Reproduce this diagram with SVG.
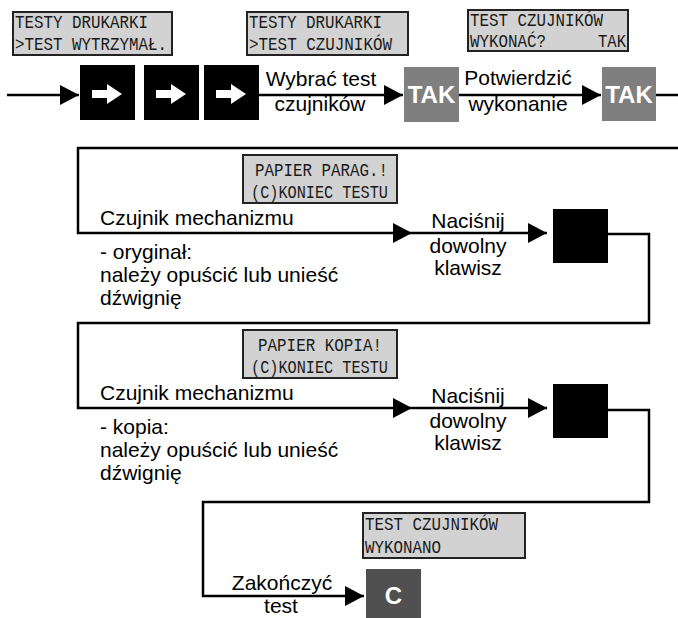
<svg xmlns="http://www.w3.org/2000/svg" width="678" height="618" viewBox="0 0 678 618">
<style>
.lcd{fill:#d2d2d2;stroke:#222;stroke-width:2}
.lt{font-family:"Liberation Mono","DejaVu Sans Mono",monospace;font-size:18px;fill:#1a1a1a}
.lbl{font-family:"Liberation Sans",Arial,sans-serif;font-size:21px;fill:#000}
.mid{text-anchor:middle}
.key{fill:#000}
.tak{fill:#7f7f7f}
.cbox{fill:#505050}
.kt{font-family:"Liberation Sans",Arial,sans-serif;font-weight:bold;font-size:24px;fill:#fff;text-anchor:middle}
.ln{fill:none;stroke:#000;stroke-width:2.5}
</style>
<defs>
<marker id="ah" markerUnits="userSpaceOnUse" markerWidth="19" markerHeight="20" refX="19" refY="10" orient="auto" viewBox="0 0 19 20">
<path d="M0,0 L19,10 L0,20 z" fill="#000"/>
</marker>
<path id="wa" d="M12,25 H27 V19 L42,29 L27,39 V33 H12 z" fill="#fff"/>
</defs>

<g id="connectors">
<path class="ln" d="M7,95 H79" marker-end="url(#ah)"/>
<path class="ln" d="M258,95 H403" marker-end="url(#ah)"/>
<path class="ln" d="M458,95 H601" marker-end="url(#ah)"/>
<path class="ln" d="M655,95 H678"/>
<path class="ln" d="M678,148 H78 V233 H412" marker-end="url(#ah)"/>
<path class="ln" d="M412,233 H547" marker-end="url(#ah)"/>
<path class="ln" d="M608,234 H649 V323 H78 V408 H412" marker-end="url(#ah)"/>
<path class="ln" d="M412,408 H547" marker-end="url(#ah)"/>
<path class="ln" d="M608,410 H649 V502 H203 V596 H364" marker-end="url(#ah)"/>
</g>

<g id="lcd1">
<rect class="lcd" x="13" y="12" width="159" height="43"/>
<text class="lt" x="15" y="28" textLength="133" lengthAdjust="spacingAndGlyphs">TESTY DRUKARKI</text>
<text class="lt" x="15" y="50" textLength="152" lengthAdjust="spacingAndGlyphs">&gt;TEST WYTRZYMAŁ.</text>
</g>
<g id="lcd2">
<rect class="lcd" x="247" y="12" width="161" height="43"/>
<text class="lt" x="249" y="28" textLength="133" lengthAdjust="spacingAndGlyphs">TESTY DRUKARKI</text>
<text class="lt" x="249" y="50" textLength="143" lengthAdjust="spacingAndGlyphs">&gt;TEST CZUJNIKÓW</text>
</g>
<g id="lcd3">
<rect class="lcd" x="468" y="10" width="160" height="41"/>
<text class="lt" x="470" y="26" textLength="133" lengthAdjust="spacingAndGlyphs">TEST CZUJNIKÓW</text>
<text class="lt" x="470" y="47" textLength="76" lengthAdjust="spacingAndGlyphs">WYKONAĆ?</text>
<text class="lt" x="598" y="47" textLength="28" lengthAdjust="spacingAndGlyphs">TAK</text>
</g>

<g id="key1"><rect class="key" x="80" y="65" width="55" height="55"/><use href="#wa" x="80" y="65"/></g>
<g id="key2"><rect class="key" x="144" y="65" width="55" height="55"/><use href="#wa" x="144" y="65"/></g>
<g id="key3"><rect class="key" x="204" y="65" width="55" height="55"/><use href="#wa" x="204" y="65"/></g>

<g id="label1">
<text class="lbl mid" x="321" y="86">Wybrać test</text>
<text class="lbl mid" x="320" y="111">czujników</text>
</g>
<g id="tak1"><rect class="tak" x="404" y="67" width="55" height="55"/><text class="kt" x="431.5" y="103">TAK</text></g>
<g id="label2">
<text class="lbl mid" x="518" y="85">Potwierdzić</text>
<text class="lbl mid" x="518" y="111">wykonanie</text>
</g>
<g id="tak2"><rect class="tak" x="602" y="67" width="54" height="54"/><text class="kt" x="629" y="103">TAK</text></g>

<g id="lcd4">
<rect class="lcd" x="243" y="155" width="154" height="48"/>
<text class="lt" x="255" y="176" textLength="133" lengthAdjust="spacingAndGlyphs">PAPIER PARAG.!</text>
<text class="lt" x="251" y="198" textLength="137" lengthAdjust="spacingAndGlyphs">(C)KONIEC TESTU</text>
</g>
<g id="text2">
<text class="lbl" x="100" y="225">Czujnik mechanizmu</text>
<text class="lbl" x="100" y="259">- oryginał:</text>
<text class="lbl" x="100" y="282">należy opuścić lub unieść</text>
<text class="lbl" x="100" y="305">dźwignię</text>
</g>
<g id="label3">
<text class="lbl mid" x="468" y="228">Naciśnij</text>
<text class="lbl mid" x="468" y="253">dowolny</text>
<text class="lbl mid" x="468" y="275">klawisz</text>
</g>
<g id="key4"><rect class="key" x="553" y="209" width="55" height="54"/></g>

<g id="lcd5">
<rect class="lcd" x="243" y="330" width="154" height="48"/>
<text class="lt" x="258" y="351" textLength="124" lengthAdjust="spacingAndGlyphs">PAPIER KOPIA!</text>
<text class="lt" x="251" y="373" textLength="137" lengthAdjust="spacingAndGlyphs">(C)KONIEC TESTU</text>
</g>
<g id="text3">
<text class="lbl" x="100" y="400">Czujnik mechanizmu</text>
<text class="lbl" x="100" y="434">- kopia:</text>
<text class="lbl" x="100" y="457">należy opuścić lub unieść</text>
<text class="lbl" x="100" y="480">dźwignię</text>
</g>
<g id="label4">
<text class="lbl mid" x="468" y="403">Naciśnij</text>
<text class="lbl mid" x="468" y="428">dowolny</text>
<text class="lbl mid" x="468" y="450">klawisz</text>
</g>
<g id="key5"><rect class="key" x="553" y="384" width="55" height="54"/></g>

<g id="lcd6">
<rect class="lcd" x="363" y="513" width="162" height="45"/>
<text class="lt" x="365" y="530" textLength="133" lengthAdjust="spacingAndGlyphs">TEST CZUJNIKÓW</text>
<text class="lt" x="365" y="553" textLength="76" lengthAdjust="spacingAndGlyphs">WYKONANO</text>
</g>
<g id="label5">
<text class="lbl mid" x="282" y="590">Zakończyć</text>
<text class="lbl mid" x="281" y="613">test</text>
</g>
<g id="keyC"><rect class="cbox" x="366" y="569" width="55" height="49"/><text class="kt" x="393.5" y="604" font-size="26">C</text></g>
</svg>
